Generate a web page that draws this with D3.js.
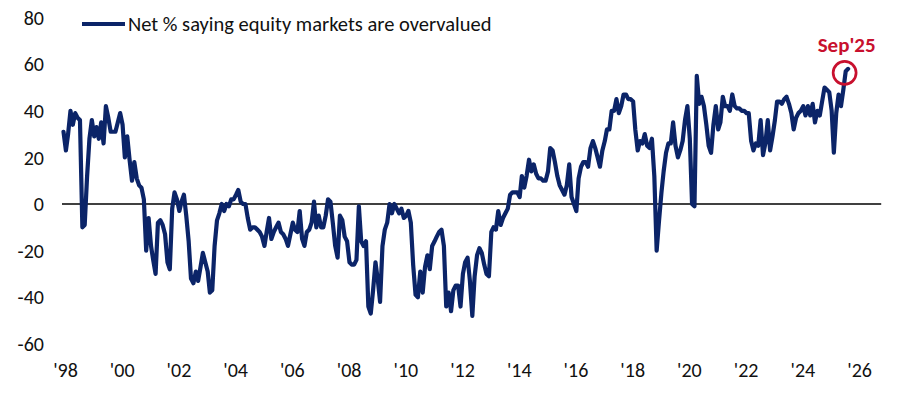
<!DOCTYPE html>
<html>
<head>
<meta charset="utf-8">
<script src="https://cdn.jsdelivr.net/npm/d3@7"></script>
<style>
  body { margin: 0; background: #fff; }
  svg text { font-family: Carlito, Calibri, Lato, "Open Sans", sans-serif; }
</style>
</head>
<body>
<div id="chart"></div>
<script>
// monthly readings, Jan 1998 onwards (net % saying equities overvalued)
const vals1998to2003 = [
    31, 23, 30, 40, 34, 39, 37, 36, -10, -9, 12, 28,
    36, 29, 33, 28, 35, 26, 42, 37, 31, 31, 31, 35,
    39, 34, 20, 29, 19, 10, 18, 11, 8, 7, 2, -20,
    -6, -18, -24, -30, -8, -7, -9, -13, -25, -28, -2, 5,
    2, -3, 1, 4, -5, -16, -32, -34, -29, -33, -27, -21,
    -25, -29, -38, -37, -18, -7, -4, 0, -3, 0, -1, 2
];
const vals2004to2009 = [
    2, 4, 6, 1, 0, 0, -6, -11, -10, -10, -11, -12,
    -14, -18, -12, -6, -15, -12, -10, -8, -12, -13, -15, -18,
    -13, -8, -11, -12, -3, -15, -18, -12, -11, -8, 1, -10,
    -5, -10, -10, -5, 2, 1, -8, -18, -23, -5, -7, -14,
    -16, -25, -26, -26, -24, -1, -16, -18, -16, -44, -47, -37,
    -25, -33, -42, -18, -11, -8, 0, -4, 0, -2, -4, -2
];
const vals2010to2015 = [
    -6, -5, -3, -8, -26, -39, -40, -29, -38, -27, -22, -28,
    -18, -16, -14, -12, -11, -18, -44, -38, -46, -37, -35, -35,
    -44, -30, -25, -23, -33, -48, -31, -22, -19, -21, -26, -30,
    -31, -12, -10, -11, -3, -9, -6, -4, -2, 4, 5, 5,
    5, 3, 12, 7, 12, 19, 14, 17, 13, 11, 11, 10,
    10, 14, 24, 23, 18, 12, 8, 6, 4, 8, 17, 3
];
const vals2016to2021 = [
    0, -3, 11, 16, 18, 18, 16, 24, 27, 24, 20, 16,
    23, 27, 32, 32, 40, 40, 45, 39, 42, 47, 47, 45,
    45, 44, 32, 23, 27, 26, 30, 25, 24, 28, 12, -20,
    -7, 5, 14, 22, 26, 26, 35, 25, 20, 23, 27, 36,
    42, 28, 0, -1, 55, 43, 46, 42, 34, 25, 22, 34,
    42, 32, 35, 46, 42, 42, 40, 47, 42, 41, 41, 40
];
const vals2022to2025 = [
    40, 39, 39, 27, 23, 26, 25, 36, 21, 26, 36, 23,
    29, 36, 44, 44, 43, 45, 46, 43, 39, 32, 37, 39,
    40, 42, 38, 42, 38, 43, 35, 40, 38, 44, 50, 49,
    48, 40, 22, 39, 47, 42, 49, 57, 58
];

const xTickYears = [1998, 2000, 2002, 2004, 2006, 2008, 2010, 2012, 2014, 2016, 2018, 2020, 2022, 2024, 2026];
const yTicks = [-60, -40, -20, 0, 20, 40, 60, 80];
const seriesName = "Net % saying equity markets are overvalued";
const calloutLabel = "Sep'25";

const width = 900, height = 397;
const navy = "#0b2468", crimson = "#c8102e";

const svg = d3.select("#chart")
    .append("svg")
    .attr("width", width)
    .attr("height", height);

const allVals = [].concat(vals1998to2003, vals2004to2009, vals2010to2015, vals2016to2021, vals2022to2025);
const start = new Date(1998, 0, 1);
const data = allVals.map((v, i) => ({ date: d3.timeMonth.offset(start, i), value: v }));

// scales
const x = d3.scaleTime()
    .domain([new Date(1998, 0, 1), new Date(2026, 0, 1)])
    .range([63.5, 857.6]);
const y = d3.scaleLinear()
    .domain([-60, 80])
    .range([343.8, 17.6]);

// y tick labels (no axis line)
svg.append("g")
    .selectAll("text")
    .data(yTicks)
    .join("text")
    .attr("x", 44)
    .attr("y", d => y(d))
    .attr("dy", "0.36em")
    .attr("text-anchor", "end")
    .attr("font-size", 20)
    .attr("fill", "#111")
    .text(d => d);

// x tick labels
svg.append("g")
    .selectAll("text")
    .data(xTickYears)
    .join("text")
    .attr("x", d => x(new Date(d, 0, 1)) + 2)
    .attr("y", 377)
    .attr("text-anchor", "middle")
    .attr("font-size", 20)
    .attr("fill", "#111")
    .text(d => "'" + String(d).slice(2));

// zero line
svg.append("line")
    .attr("x1", x(start) - 1.5)
    .attr("x2", x(new Date(2026, 10, 1)))
    .attr("y1", y(0))
    .attr("y2", y(0))
    .attr("stroke", "#000")
    .attr("stroke-width", 1.3);

// the series
const line = d3.line()
    .x(d => x(d.date))
    .y(d => y(d.value));

svg.append("path")
    .datum(data)
    .attr("fill", "none")
    .attr("stroke", navy)
    .attr("stroke-width", 4.2)
    .attr("stroke-linejoin", "round")
    .attr("stroke-linecap", "round")
    .attr("d", line);

// legend
svg.append("line")
    .attr("x1", 82).attr("x2", 125)
    .attr("y1", 24).attr("y2", 24)
    .attr("stroke", navy)
    .attr("stroke-width", 4);
svg.append("text")
    .attr("x", 128)
    .attr("y", 31)
    .attr("font-size", 20.5)
    .attr("fill", "#111")
    .text(seriesName);

// callout on the latest reading
const last = data[data.length - 1];
svg.append("circle")
    .attr("cx", x(last.date) - 3.5)
    .attr("cy", y(last.value) + 4)
    .attr("r", 11.5)
    .attr("fill", "none")
    .attr("stroke", crimson)
    .attr("stroke-width", 2.7);
svg.append("text")
    .attr("x", x(last.date) - 1.5)
    .attr("y", 51.5)
    .attr("text-anchor", "middle")
    .attr("font-size", 21)
    .attr("font-weight", "bold")
    .attr("fill", crimson)
    .text(calloutLabel);
</script>
</body>
</html>
